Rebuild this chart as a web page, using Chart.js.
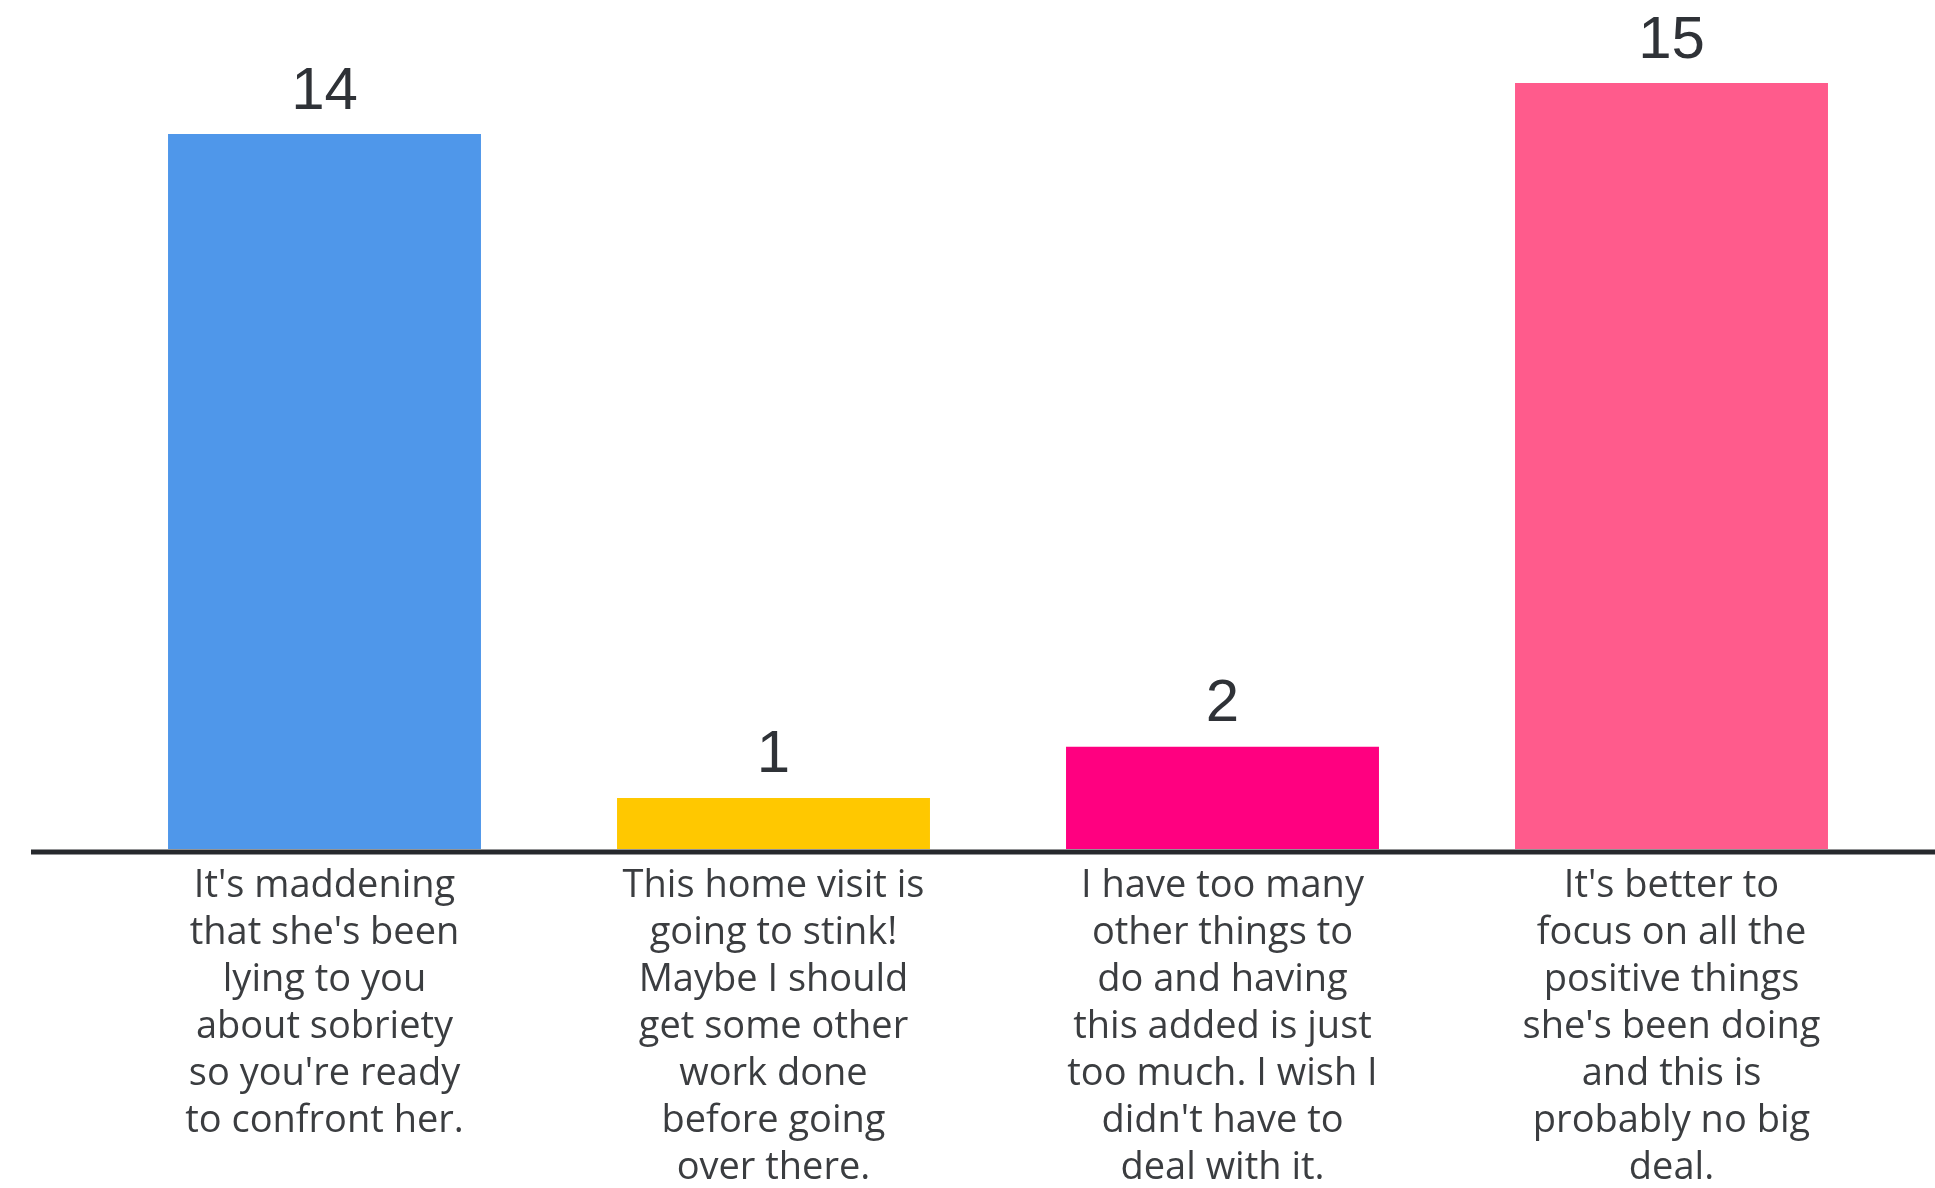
<!DOCTYPE html>
<html>
<head>
<meta charset="utf-8">
<script src="https://cdn.jsdelivr.net/npm/chart.js@4"></script>
<style>
    html, body { margin: 0; padding: 0; background: #ffffff; }
    #wrap { width: 1935px; height: 1188px; }
</style>
</head>
<body>
<div id="wrap"><canvas id="pollChart" width="1935" height="1188"></canvas></div>
<script>
// Respuestas de la encuesta
const categories = [
    ["It's maddening", "that she's been", "lying to you", "about sobriety", "so you're ready", "to confront her."],
    ["This home visit is", "going to stink!", "Maybe I should", "get some other", "work done", "before going", "over there."],
    ["I have too many", "other things to", "do and having", "this added is just", "too much. I wish I", "didn't have to", "deal with it."],
    ["It's better to", "focus on all the", "positive things", "she's been doing", "and this is", "probably no big", "deal."]
];
const votes = [14, 1, 2, 15];
const barColors = ['#4f97ea', '#ffc800', '#ff0080', '#ff5b8c'];

// Numero encima de cada barra
const valueLabels = {
    id: 'valueLabels',
    afterDatasetsDraw(chart) {
        const ctx = chart.ctx;
        const meta = chart.getDatasetMeta(0);
        ctx.save();
        ctx.font = '60px "Liberation Sans", Arial, sans-serif';
        ctx.fillStyle = '#2f3237';
        ctx.textAlign = 'center';
        ctx.textBaseline = 'bottom';
        meta.data.forEach((bar, i) => {
            ctx.fillText(String(chart.data.datasets[0].data[i]), bar.x, bar.y - 12);
        });
        ctx.restore();
    }
};

// Linea base que cruza todo el ancho
const baseLine = {
    id: 'baseLine',
    afterDatasetsDraw(chart) {
        const ctx = chart.ctx;
        const y = chart.scales.y.getPixelForValue(0) + 3;
        ctx.save();
        ctx.strokeStyle = '#26292d';
        ctx.lineWidth = 5;
        ctx.beginPath();
        ctx.moveTo(31, y);
        ctx.lineTo(chart.width, y);
        ctx.stroke();
        ctx.restore();
    }
};

const ctx = document.getElementById('pollChart').getContext('2d');
new Chart(ctx, {
    type: 'bar',
    data: {
        labels: categories,
        datasets: [{
            data: votes,
            backgroundColor: barColors,
            borderWidth: 0,
            barPercentage: 0.697,
            categoryPercentage: 1
        }]
    },
    options: {
        responsive: false,
        animation: false,
        layout: {
            padding: { top: 83, left: 100, right: 39, bottom: 0 }
        },
        plugins: {
            legend: { display: false },
            tooltip: { enabled: false }
        },
        scales: {
            x: {
                grid: { display: false, drawTicks: false },
                border: { display: false },
                ticks: {
                    padding: 14,
                    maxRotation: 0,
                    autoSkip: false,
                    color: '#3b3d40',
                    font: { family: '"Open Sans", "Noto Sans", sans-serif', size: 38, lineHeight: 1.235 }
                },
                afterFit(axis) { axis.height = 339; }
            },
            y: {
                display: false,
                min: 0,
                max: 15
            }
        }
    },
    plugins: [valueLabels, baseLine]
});
</script>
</body>
</html>
